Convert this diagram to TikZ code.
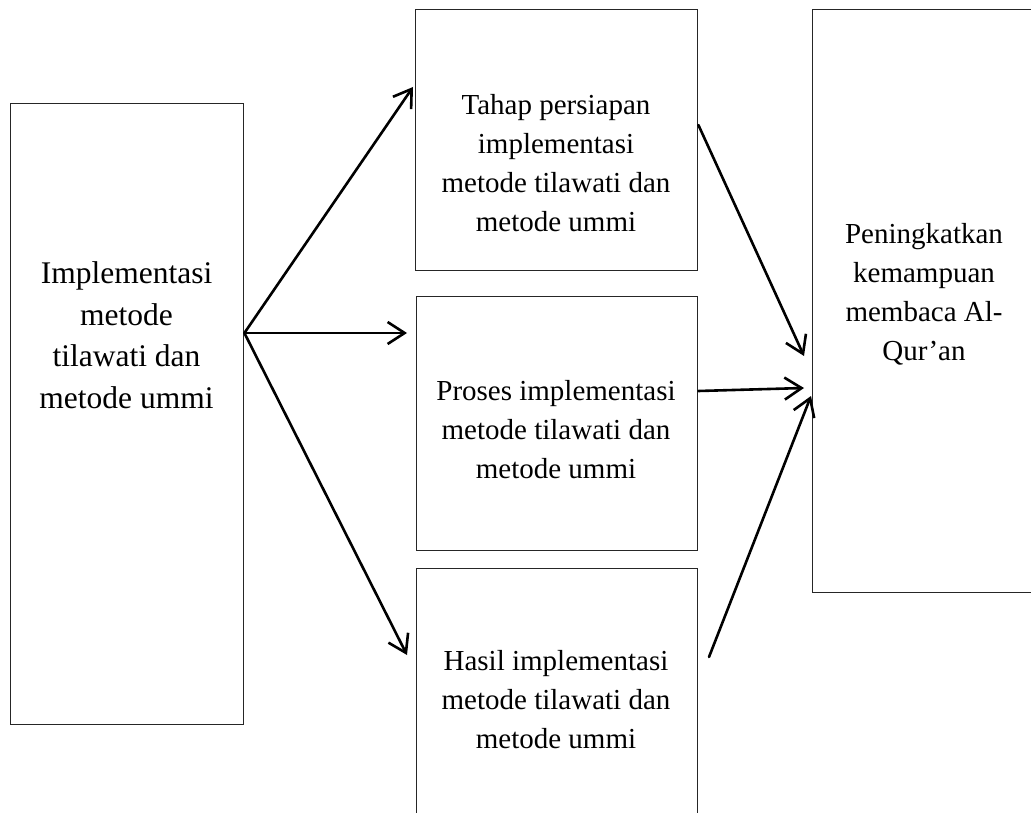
\documentclass[tikz,border=0pt]{standalone}
\usepackage{fontspec}
\setmainfont{Liberation Serif}
\usetikzlibrary{arrows.meta}
\begin{document}
\begin{tikzpicture}[x=1pt,y=-1pt,
  box/.style={draw=black!85, line width=1.4pt, inner sep=0pt, anchor=north west},
  arr/.style={line width=2.6pt, line cap=round, -{Straight Barb[length=17pt,width=22pt,line width=2.6pt]}},
  bigtxt/.style={font=\fontsize{31.5}{41.5}\selectfont, align=center, inner sep=0pt},
  txt/.style={font=\fontsize{29}{39}\selectfont, align=center, inner sep=0pt}]
\useasboundingbox (0,0) rectangle (1031,813);
\clip (0,0) rectangle (1031,813);
% boxes
\node[box, minimum width=233pt, minimum height=621pt] (L) at (10,103) {};
\node[box, minimum width=282pt, minimum height=261pt] (T) at (415,9) {};
\node[box, minimum width=281pt, minimum height=254pt] (M) at (416,296) {};
\node[box, minimum width=281pt, minimum height=262pt] (B) at (416,568) {};
\node[box, minimum width=240pt, minimum height=583pt] (R) at (812,9) {};
% texts
\node[bigtxt] (Lt) at (126.5,335) {Implementasi\\metode\\tilawati dan\\metode ummi};
\node[txt] (Tt) at (556,163.5) {Tahap persiapan\\implementasi\\metode tilawati dan\\metode ummi};
\node[txt] (Mt) at (556,430) {Proses implementasi\\metode tilawati dan\\metode ummi};
\node[txt] (Bt) at (556,700) {Hasil implementasi\\metode tilawati dan\\metode ummi};
\node[txt] (Rt) at (924,294.5) {Peningkatkan\\kemampuan\\membaca Al-\\Qur’an};
% arrow ends
\coordinate (tT) at (413,87);
\coordinate (tM) at (407,333);
\coordinate (tB) at (407,655);
\coordinate (tR1) at (804,356);
\coordinate (tR2) at (804,388);
\coordinate (tR3) at (811,396);
\coordinate (sB) at (709,657);
% connectors
\draw[arr] (L.east |- 0,333) -- (tT);
\draw[arr] (L.east |- 0,333) -- (tM);
\draw[arr] (L.east |- 0,333) -- (tB);
\draw[arr] (T.east |- 0,125) -- (tR1);
\draw[arr] (M.east |- 0,391) -- (tR2);
\draw[arr] (sB) -- (tR3);
\end{tikzpicture}
\end{document}
